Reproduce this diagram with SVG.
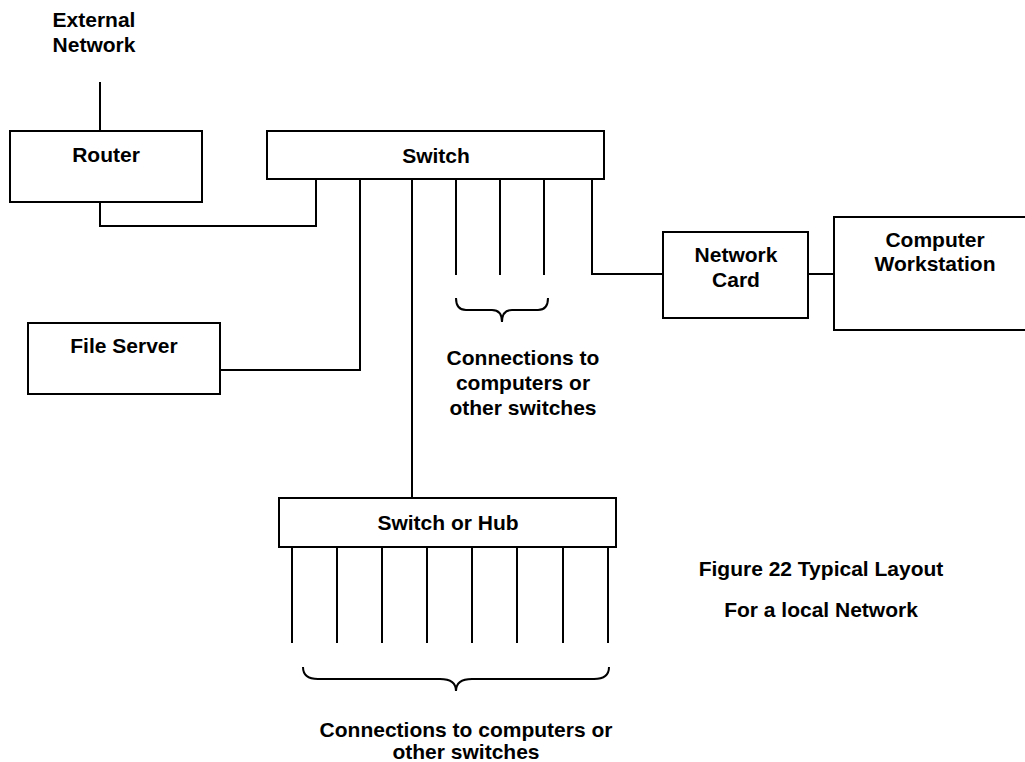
<svg xmlns="http://www.w3.org/2000/svg" width="1025" height="762" viewBox="0 0 1025 762">
<style>
.box{fill:#fff;stroke:#000;stroke-width:2}
.ln{fill:none;stroke:#000;stroke-width:2}
text{font-family:"Liberation Sans",Arial,sans-serif;font-weight:bold;font-size:21px;fill:#000;text-anchor:middle}
</style>
<rect width="1025" height="762" fill="#fff"/>
<g id="connectors">
<path class="ln" d="M100 82V131"/>
<path class="ln" d="M100 202V226H316V179"/>
<path class="ln" d="M360 179V370H220"/>
<path class="ln" d="M412 179V498"/>
<path class="ln" d="M456 179V275M500 179V275M544 179V275"/>
<path class="ln" d="M592 179V274H663"/>
<path class="ln" d="M808 274H834"/>
<path class="ln" d="M292 547V643M337 547V643M382 547V643M427 547V643M472 547V643M517 547V643M563 547V643M608 547V643"/>
</g>
<g id="brace-top">
<path class="ln" d="M456 298Q456 310 466 310H492Q502 310 502 322Q502 310 512 310H538Q548 310 548 298"/>
</g>
<g id="brace-bottom">
<path class="ln" d="M303 667Q303 679 318 679H440Q456 679 456 691Q456 679 472 679H594Q609 679 609 667"/>
</g>
<g id="external">
<text x="94" y="27">External</text>
<text x="94" y="52">Network</text>
</g>
<g id="router">
<rect class="box" x="10" y="131" width="192" height="71"/>
<text x="106" y="162">Router</text>
</g>
<g id="switch">
<rect class="box" x="267" y="131" width="337" height="48"/>
<text x="436" y="163">Switch</text>
</g>
<g id="file-server">
<rect class="box" x="28" y="323" width="192" height="71"/>
<text x="124" y="353">File Server</text>
</g>
<g id="network-card">
<rect class="box" x="663" y="232" width="145" height="86"/>
<text x="736" y="262">Network</text>
<text x="736" y="287">Card</text>
</g>
<g id="workstation">
<rect class="box" x="834" y="217" width="200" height="113"/>
<text x="935" y="247">Computer</text>
<text x="935" y="271">Workstation</text>
</g>
<g id="switch-hub">
<rect class="box" x="279" y="498" width="337" height="49"/>
<text x="448" y="530">Switch or Hub</text>
</g>
<g id="label-top">
<text x="523" y="365">Connections to</text>
<text x="523" y="390">computers or</text>
<text x="523" y="415">other switches</text>
</g>
<g id="label-bottom">
<text x="466" y="737">Connections to computers or</text>
<text x="466" y="759">other switches</text>
</g>
<g id="caption">
<text x="821" y="576">Figure 22 Typical Layout</text>
<text x="821" y="617">For a local Network</text>
</g>
</svg>
